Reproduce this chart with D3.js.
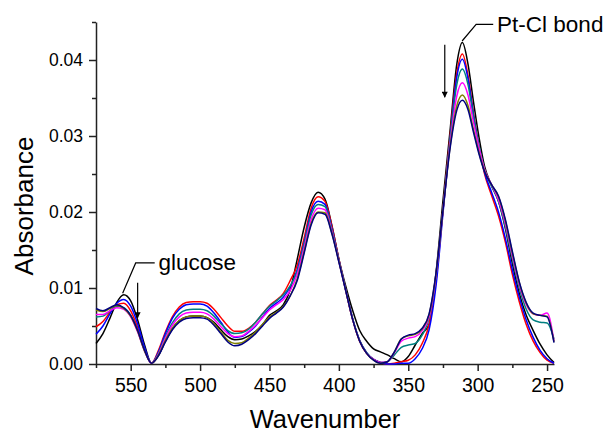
<!DOCTYPE html>
<html>
<head>
  <meta charset="utf-8">
  <title>UV-Vis Spectra</title>
  <style>
    body { margin: 0; background: #fff; }
    svg text { font-family: Arial, "Liberation Sans", sans-serif; fill: #000; }
    .axis path, .axis line { stroke: #222; stroke-width: 1.5; }
    .spectrum { fill: none; stroke-width: 1.5; }
    .note { fill: none; stroke: #000; stroke-width: 1.2; }
  </style>
</head>
<body>
  <div id="chart"></div>

  <script src="https://d3js.org/d3.v7.min.js"></script>
  <script>
    // Wavenumber sample points (x values)
    const wavenumbers = [575, 570, 565, 560, 555, 550, 545, 540, 535, 530, 525, 520, 515, 510, 505, 500, 495, 490,
      485, 480, 475, 470, 465, 460, 455, 450, 445, 440, 435, 430, 425, 420, 415, 410, 405, 400, 395, 390, 385, 380,
      375, 370, 365, 360, 355, 350, 345, 340, 335, 330, 325, 320, 315, 311, 307, 303, 299, 295, 290, 285, 280, 275,
      270, 265, 260, 255, 250, 245];

    // Absorbance, one array per spectrum
    const scan1 = [.0027, .0040, .0060, .0081, .0091, .0083, .0058, .0025, .0001,
      .0011, .0030, .0046, .0057, .0062, .0063, .0063, .0061, .0055, .0045, .0036, .0032, .0033, .0037, .0043, .0052, .0064,
      .0070, .0078, .0098, .0138, .0180, .0212, .0226,
      .0217, .0182, .0138, .0102, .0070, .0044, .0030, .0020, .0016, .0012, .0007, .0003, .0010, .0025, .0040,
      .0052, .0120, .0215, .0305, .0395, .0423,
      .0395, .0345, .0298, .0260, .0235, .0214, .0178, .0132, .0093, .0064, .0044, .0026, .0012, .0002];
    const scan2 = [.0049, .0056, .0068, .0078, .0080, .0070, .0048, .0020, .0001,
      .0018, .0042, .0062, .0075, .0081, .0082, .0082, .0080, .0072, .0061, .0050, .0043, .0043, .0047, .0055, .0066, .0077,
      .0084, .0093, .0110, .0130, .0166, .0205, .0220,
      .0214, .0181, .0138, .0097, .0058, .0030, .0014, .0006, .0002, .0000, .0001, .0003, .0005, .0012, .0027,
      .0052, .0110, .0203, .0298, .0383, .0408,
      .0380, .0330, .0285, .0250, .0222, .0195, .0160, .0118, .0082, .0052, .0030, .0015, .0005, .0001];
    const scan3 = [.0039, .0050, .0066, .0080, .0085, .0076, .0053, .0022, .0001,
      .0016, .0040, .0060, .0072, .0078, .0079, .0079, .0076, .0067, .0055, .0042, .0035, .0036, .0042, .0050, .0062, .0073,
      .0080, .0088, .0102, .0124, .0160, .0200, .0214,
      .0210, .0178, .0137, .0097, .0059, .0031, .0015, .0006, .0002, .0000, .0000, .0001, .0001, .0007, .0020,
      .0045, .0103, .0198, .0293, .0378, .0401,
      .0376, .0328, .0285, .0252, .0226, .0200, .0165, .0124, .0088, .0058, .0035, .0018, .0007, .0001];
    const scan4 = [.0062, .0063, .0070, .0076, .0074, .0064, .0044, .0018, .0001,
      .0014, .0036, .0054, .0066, .0071, .0072, .0072, .0070, .0063, .0053, .0044, .0040, .0041, .0046, .0055, .0066, .0076,
      .0083, .0091, .0103, .0122, .0158, .0196, .0210,
      .0207, .0176, .0136, .0097, .0059, .0031, .0015, .0006, .0002, .0003, .0012, .0022, .0025, .0027, .0038,
      .0060, .0116, .0203, .0293, .0368, .0388,
      .0368, .0325, .0287, .0256, .0234, .0214, .0180, .0138, .0100, .0072, .0058, .0055, .0054, .0033];
    const scan5 = [.0065, .0065, .0070, .0074, .0072, .0062, .0042, .0017, .0001,
      .0013, .0034, .0051, .0062, .0067, .0068, .0068, .0066, .0059, .0049, .0040, .0036, .0037, .0043, .0051, .0061, .0071,
      .0078, .0085, .0097, .0118, .0153, .0190, .0205,
      .0203, .0174, .0135, .0096, .0058, .0030, .0014, .0006, .0002, .0003, .0015, .0030, .0034, .0036, .0044,
      .0062, .0117, .0202, .0288, .0353, .0370,
      .0354, .0318, .0284, .0256, .0236, .0216, .0184, .0142, .0104, .0078, .0066, .0064, .0067, .0030];
    const scan6 = [.0071, .0069, .0073, .0077, .0073, .0063, .0043, .0017, .0001,
      .0012, .0031, .0047, .0057, .0062, .0063, .0063, .0061, .0053, .0042, .0031, .0027, .0028, .0034, .0042, .0052, .0062,
      .0068, .0076, .0090, .0112, .0148, .0185, .0200,
      .0199, .0172, .0135, .0096, .0058, .0030, .0014, .0005, .0001, .0003, .0016, .0033, .0037, .0039, .0046,
      .0065, .0119, .0202, .0284, .0340, .0354,
      .0340, .0308, .0278, .0254, .0236, .0220, .0188, .0146, .0107, .0080, .0066, .0064, .0063, .0029];
    const scan7 = [.0073, .0070, .0074, .0078, .0074, .0064, .0044, .0018, .0001,
      .0011, .0029, .0045, .0055, .0060, .0061, .0061, .0059, .0051, .0040, .0029, .0024, .0026, .0032, .0040, .0050, .0060,
      .0067, .0075, .0090, .0110, .0146, .0183, .0199,
      .0197, .0171, .0134, .0096, .0058, .0030, .0014, .0005, .0001, .0003, .0016, .0033, .0038, .0040, .0047,
      .0066, .0120, .0202, .0282, .0334, .0347,
      .0335, .0305, .0276, .0253, .0236, .0221, .0190, .0148, .0108, .0081, .0067, .0064, .0062, .0028];

    const spectra = [scan1, scan2, scan3, scan4, scan5, scan6, scan7];
    const colors = ["#000000", "#ff0000", "#0000ff", "#008080", "#ff00ff", "#808000", "#000080"];

    // Tick values
    const xMajorTicks = [550, 500, 450, 400, 350, 300, 250];
    const xMinorTicks = [575, 525, 475, 425, 375, 325, 275];
    const yMajorTicks = [0, 0.01, 0.02, 0.03, 0.04];
    const yMinorTicks = [0.005, 0.015, 0.025, 0.035, 0.045];

    const width = 608, height = 435;

    const svg = d3.select("#chart")
      .append("svg")
      .attr("width", width)
      .attr("height", height);

    const x = d3.scaleLinear().domain([575, 245]).range([96, 554]);
    const y = d3.scaleLinear().domain([0, 0.045]).range([364, 22]);

    // Minor ticks
    svg.append("g")
      .attr("class", "axis")
      .attr("transform", "translate(0,364)")
      .call(d3.axisBottom(x).tickValues(xMinorTicks).tickSize(4).tickSizeOuter(0).tickFormat(""))
      .call(g => g.select(".domain").remove());
    svg.append("g")
      .attr("class", "axis")
      .attr("transform", "translate(96,0)")
      .call(d3.axisLeft(y).tickValues(yMinorTicks).tickSize(4).tickSizeOuter(0).tickFormat(""))
      .call(g => g.select(".domain").remove());

    // Major ticks + axis lines
    svg.append("g")
      .attr("class", "axis")
      .attr("transform", "translate(0,364)")
      .call(d3.axisBottom(x).tickValues(xMajorTicks).tickSize(7).tickSizeOuter(0).tickPadding(7).tickFormat(d3.format("d")))
      .attr("font-size", 19.5)
      .attr("font-family", null);
    svg.append("g")
      .attr("class", "axis")
      .attr("transform", "translate(96,0)")
      .call(d3.axisLeft(y).tickValues(yMajorTicks).tickSize(7).tickSizeOuter(0).tickPadding(6).tickFormat(d3.format(".2f")))
      .attr("font-size", 17.5)
      .attr("font-family", null);

    // Axis titles
    svg.append("text")
      .attr("x", (x.range()[0] + x.range()[1]) / 2)
      .attr("y", 428)
      .attr("text-anchor", "middle")
      .attr("font-size", 25.5)
      .text("Wavenumber");
    svg.append("text")
      .attr("transform", "translate(33,206) rotate(-90)")
      .attr("text-anchor", "middle")
      .attr("font-size", 26)
      .text("Absorbance");

    // Spectra
    const line = d3.line()
      .x(d => x(d[0]))
      .y(d => y(d[1]))
      .curve(d3.curveMonotoneX);

    spectra.forEach((vals, i) => {
      svg.append("path")
        .attr("class", "spectrum")
        .attr("stroke", colors[i])
        .attr("d", line(wavenumbers.map((w, j) => [w, vals[j]])));
    });

    // Annotations
    svg.append("defs").append("marker")
      .attr("id", "head")
      .attr("viewBox", "0 0 10 10")
      .attr("refX", 9).attr("refY", 5)
      .attr("markerWidth", 7).attr("markerHeight", 6)
      .attr("markerUnits", "userSpaceOnUse")
      .attr("orient", "auto")
      .append("path")
      .attr("d", "M0,0 L10,5 L0,10 z")
      .attr("fill", "#000");

    // glucose label
    svg.append("path")
      .attr("class", "note")
      .attr("d", d3.line()([[x(532.7), y(0.0133)], [x(546.4), y(0.0133)], [x(555.8), y(0.0093)]]));
    svg.append("text")
      .attr("x", x(529.9))
      .attr("y", y(0.0124))
      .attr("font-size", 22.5)
      .text("glucose");
    svg.append("line")
      .attr("class", "note")
      .attr("x1", x(545)).attr("y1", y(0.0107))
      .attr("x2", x(545)).attr("y2", y(0.0061))
      .attr("marker-end", "url(#head)");

    // Pt-Cl label
    svg.append("path")
      .attr("class", "note")
      .attr("d", d3.line()([[x(288.8), y(0.0447)], [x(301.1), y(0.0447)], [x(311.2), y(0.0425)]]));
    svg.append("text")
      .attr("x", x(286))
      .attr("y", y(0.04365))
      .attr("font-size", 22.5)
      .text("Pt-Cl bond");
    svg.append("line")
      .attr("class", "note")
      .attr("x1", x(323.7)).attr("y1", y(0.042))
      .attr("x2", x(323.7)).attr("y2", y(0.0351))
      .attr("marker-end", "url(#head)");
  </script>
</body>
</html>
